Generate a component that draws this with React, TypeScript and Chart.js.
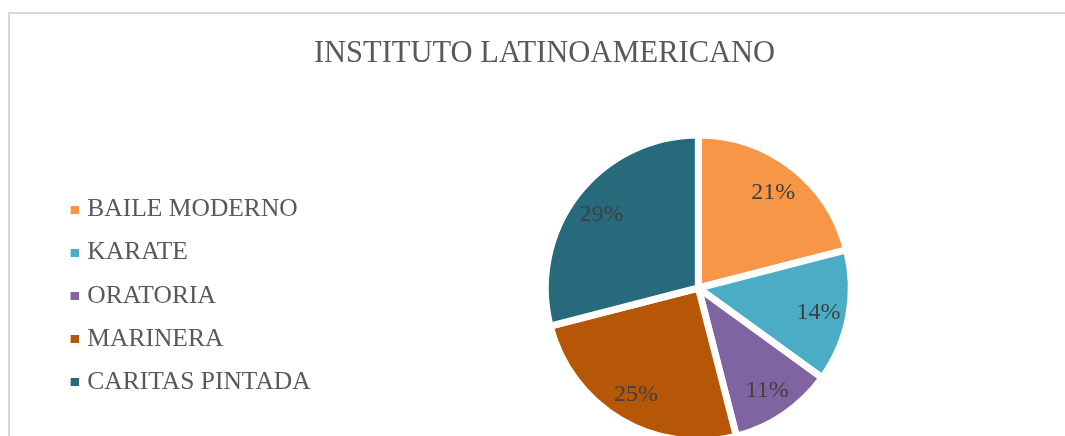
import React, { useEffect, useRef } from "react";
import { Chart, registerables } from "chart.js";

Chart.register(...registerables);

const chartTitle = "INSTITUTO LATINOAMERICANO";
const categories = ["BAILE MODERNO", "KARATE", "ORATORIA", "MARINERA", "CARITAS PINTADA"];
const percentages = [21, 14, 11, 25, 29];
const sliceColors = ["#F79646", "#4BACC6", "#8064A2", "#B65708", "#276A7C"];

const FONT = "'Liberation Serif', 'Times New Roman', serif";
const MARKER_PAD = 44;

function makeMarker(color: string): HTMLCanvasElement {
  const c = document.createElement("canvas");
  c.width = MARKER_PAD + 8;
  c.height = 8;
  const ctx = c.getContext("2d")!;
  ctx.fillStyle = color;
  ctx.fillRect(MARKER_PAD, 0, 8, 8);
  return c;
}

const pieLabels = {
  id: "pieLabels",
  afterDatasetsDraw(chart: any) {
    const ctx = chart.ctx;
    const meta = chart.getDatasetMeta(0);
    ctx.save();
    ctx.font = `24px ${FONT}`;
    ctx.fillStyle = "#404040";
    ctx.textAlign = "center";
    ctx.textBaseline = "alphabetic";
    meta.data.forEach((arc: any, i: number) => {
      const { x, y, startAngle, endAngle, outerRadius } = arc.getProps(
        ["x", "y", "startAngle", "endAngle", "outerRadius"],
        true
      );
      const mid = (startAngle + endAngle) / 2;
      const r = outerRadius * 0.8;
      // digits are ~16px tall at 24px: baseline sits 8px below the label centre
      ctx.fillText(`${percentages[i]}%`, x + Math.cos(mid) * r, y + Math.sin(mid) * r + 8);
    });
    ctx.restore();
  },
};

export default function App() {
  const ref = useRef<HTMLCanvasElement>(null);
  useEffect(() => {
    if (!ref.current) return;
    Chart.defaults.font.family = FONT;
    const markers = sliceColors.map(makeMarker);
    const chart = new Chart(ref.current, {
      type: "pie",
      data: {
        labels: categories,
        datasets: [
          {
            data: percentages,
            backgroundColor: sliceColors,
            borderColor: "#ffffff",
            borderWidth: 7,
            radius: 153,
          } as any,
        ],
      },
      options: {
        responsive: false,
        animation: false,
        events: [],
        layout: { padding: { left: 3, right: 4, top: 0, bottom: 0 } },
        plugins: {
          title: {
            display: true,
            text: chartTitle,
            color: "#595959",
            font: { family: FONT, size: 30.5, weight: "normal" },
            padding: { top: 22, bottom: 7.4 },
          },
          legend: {
            display: true,
            position: "left",
            fullSize: false,
            title: { display: true, text: " ", font: { size: 13 }, padding: 0 },
            labels: {
              usePointStyle: true,
              pointStyleWidth: MARKER_PAD,
              color: "#595959",
              padding: 17.6,
              font: { family: FONT, size: 25.5 },
              generateLabels: (c: any) => {
                const base = (Chart as any).overrides.doughnut.plugins.legend.labels.generateLabels(c);
                return base.map((it: any, i: number) => ({ ...it, pointStyle: markers[i], lineWidth: 0 }));
              },
            },
          },
          tooltip: { enabled: false },
        },
      } as any,
      plugins: [pieLabels],
    });
    return () => chart.destroy();
  }, []);
  return (
    <div style={{ position: "absolute", left: 8, top: 8, width: 1057, height: 428, overflow: "hidden" }}>
      <div
        style={{
          marginTop: 4,
          borderTop: "2px solid #d9d9d9",
          borderLeft: "2px solid #d9d9d9",
          width: 1070,
          height: 482,
        }}
      >
        <canvas ref={ref} width={1070} height={482} style={{ display: "block", width: 1070, height: 482 }} />
      </div>
    </div>
  );
}
